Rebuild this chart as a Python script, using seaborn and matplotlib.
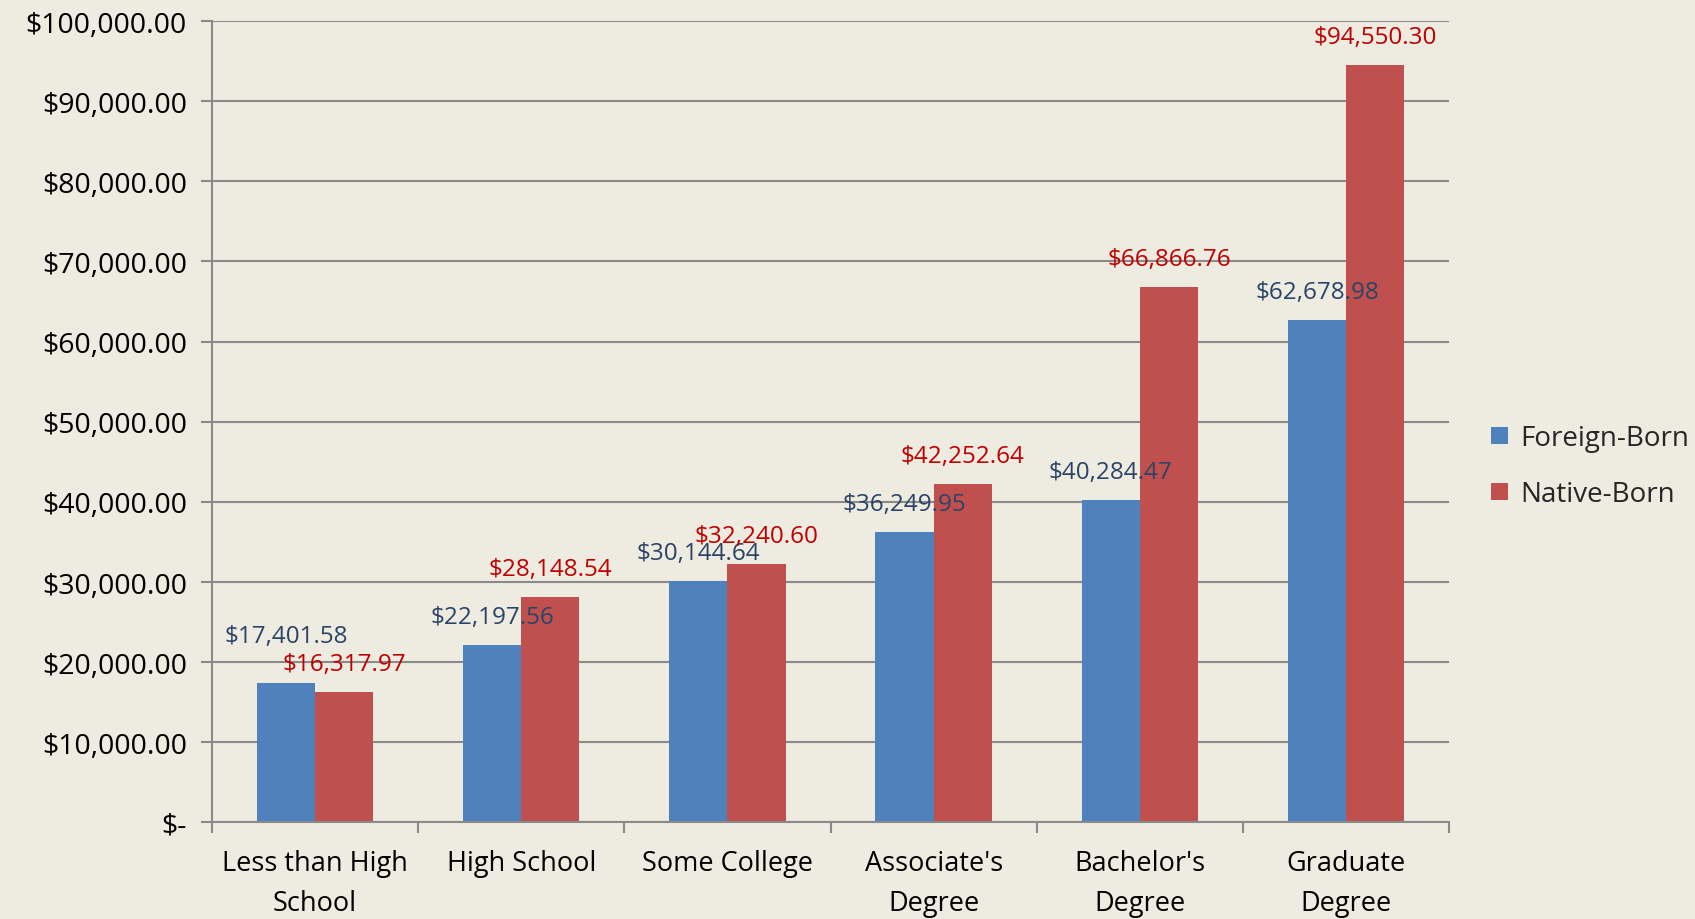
import matplotlib
matplotlib.use("Agg")
import matplotlib.pyplot as plt
import matplotlib.ticker as mticker
import pandas as pd
import seaborn as sns

# data
levels = ["Less than High\nSchool", "High School", "Some College",
          "Associate's\nDegree", "Bachelor's\nDegree", "Graduate\nDegree"]
foreign_born = [17401.58, 22197.56, 30144.64, 36249.95, 40284.47, 62678.98]
native_born = [16317.97, 28148.54, 32240.60, 42252.64, 66866.76, 94550.30]
groups = ["Foreign-Born", "Native-Born"]

df = pd.DataFrame({
    "Level": levels * 2,
    "Income": foreign_born + native_born,
    "Group": [groups[0]] * len(levels) + [groups[1]] * len(levels),
})

bg = "#EEEBE0"
blue = "#4F81BD"
red = "#C0504D"
grid_col = "#8A8A8A"

sns.set_style("white")
plt.rcParams["font.family"] = ["Open Sans", "DejaVu Sans"]

fig = plt.figure(figsize=(16.95, 9.2), dpi=100, facecolor=bg)
ax = fig.add_axes([0.125, 0.105, 0.73, 0.871])
ax.set_facecolor(bg)

sns.barplot(data=df, x="Level", y="Income", hue="Group", order=levels,
            hue_order=groups, palette=[blue, red], width=0.565, gap=0,
            saturation=1, edgecolor="none", ax=ax, legend=True)

ax.set_ylim(0, 100000)
ax.set_xlim(-0.5, len(levels) - 0.5)
ax.set_yticks(range(0, 100001, 10000))
ax.yaxis.set_major_formatter(mticker.FuncFormatter(
    lambda v, p: "$-" if v == 0 else f"${v:,.2f}"))
ax.grid(axis="y", color=grid_col, linewidth=1.5)
ax.set_axisbelow(True)
for s in ["top", "right"]:
    ax.spines[s].set_visible(False)
for s in ["left", "bottom"]:
    ax.spines[s].set_color(grid_col)
    ax.spines[s].set_linewidth(1.5)

ax.tick_params(axis="y", left=True, length=8, width=1.5, color=grid_col,
               labelsize=20.5, pad=10, labelcolor="black")
ax.tick_params(axis="x", which="major", bottom=False, labelsize=19.5,
               pad=16, labelcolor="black")
ax.set_xticks([i - 0.5 for i in range(len(levels) + 1)], minor=True)
ax.tick_params(axis="x", which="minor", bottom=True, length=8, width=1.5,
               color=grid_col)
ax.set_xlabel("")
ax.set_ylabel("")
for t in ax.get_xticklabels():
    t.set_linespacing(1.55)

# value labels (the two "Some College" labels overlap in the original too)
label_cols = {groups[0]: "#2A4468", groups[1]: "#C00000"}
for cont, grp in zip(ax.containers, groups):
    for i, bar in enumerate(cont):
        h = bar.get_height()
        off = 20
        if grp == groups[0] and i == 0:
            off = 34
        ax.annotate(f"${h:,.2f}", (bar.get_x() + bar.get_width() / 2, h),
                    xytext=(0, off), textcoords="offset points",
                    ha="center", va="center", fontsize=17.5,
                    color=label_cols[grp])

leg = ax.legend(loc="center left", bbox_to_anchor=(0.865, 0.492),
                bbox_transform=fig.transFigure, frameon=False, fontsize=20,
                handlelength=0.6, handleheight=0.6, handletextpad=0.45,
                labelspacing=1.0)

fig.savefig("out.png", dpi=100, facecolor=bg)
